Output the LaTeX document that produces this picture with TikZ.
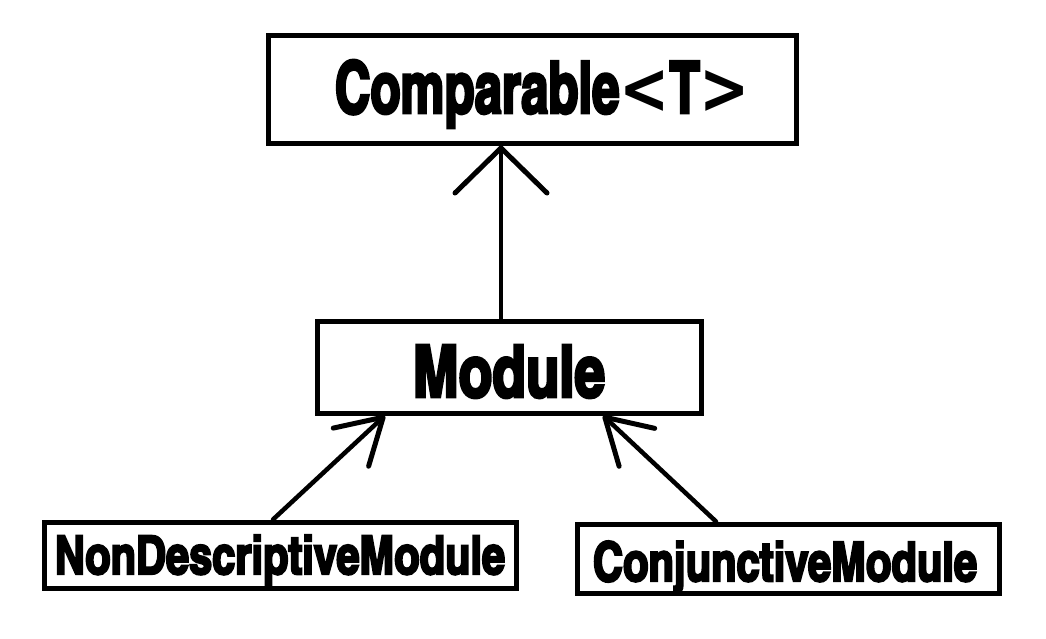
\documentclass[tikz,border=0pt]{standalone}
\usepackage{fontspec}
\newfontfamily\imp{texgyreheroscn-bold.otf}[FakeBold=4]
\newfontfamily\dvs{DejaVu Sans}
\newcommand{\ltsym}{{\dvs\bfseries <}}
\newcommand{\gtsym}{{\dvs\bfseries >}}
\usetikzlibrary{arrows.meta}
\begin{document}
\begin{tikzpicture}[x=1pt,y=-1pt,
  box/.style={draw, line width=5pt, rectangle, inner sep=0pt},
  lbl/.style={anchor=base, inner sep=0pt},
  conn/.style={line width=4.5pt, line cap=round},
  bighead/.style={-{Straight Barb[length=45pt,width=92pt,line width=5pt,round]}},
  smallhead/.style={-{Straight Barb[length=44pt,width=52pt,line width=5pt,round]}}]
\useasboundingbox (0,0) rectangle (1046,638);
\fill[white] (0,0) rectangle (1046,638);
\node[box, minimum width=528pt, minimum height=108pt] (comp) at (532,89) {};
\node[lbl] (compt) at (542.5,113) {\resizebox{415pt}{53pt}{\imp Comparable\ltsym T\gtsym}};
\node[box, minimum width=384pt, minimum height=92pt] (mod) at (509,367) {};
\node[lbl] (modt) at (509,397) {\resizebox{192pt}{52pt}{\imp Module}};
\node[box, minimum width=472pt, minimum height=66pt] (ndm) at (280,555) {};
\node[lbl] (ndmt) at (280,574) {\resizebox{450pt}{39pt}{\imp NonDescriptiveModule}};
\node[box, minimum width=422pt, minimum height=69pt] (cm) at (788,558.5) {};
\node[lbl] (cmt) at (785,581) {\resizebox{384pt}{40pt}{\imp ConjunctiveModule}};
\draw[conn, bighead] ([xshift=-8pt]mod.north) -- ([xshift=-31pt]comp.south);
\draw[conn, smallhead] ([xshift=-7pt]ndm.north) -- ([xshift=-124pt]mod.south);
\draw[conn, smallhead] ([xshift=-72pt]cm.north) -- ([xshift=94pt]mod.south);
\end{tikzpicture}
\end{document}
